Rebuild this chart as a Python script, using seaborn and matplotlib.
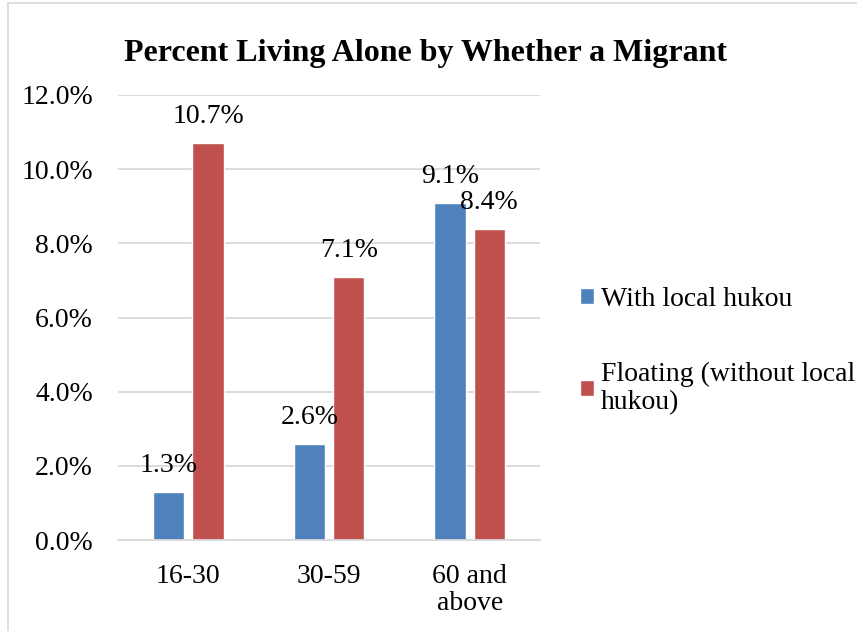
import matplotlib
matplotlib.use("Agg")
import matplotlib.pyplot as plt
import seaborn as sns
import pandas as pd
from matplotlib.patches import Rectangle
from matplotlib.ticker import FuncFormatter

categories = ["16-30", "30-59", "60 and\nabove"]
series_names = ["With local hukou", "Floating (without local\nhukou)"]
with_local = [1.3, 2.6, 9.1]
floating = [10.7, 7.1, 8.4]
colors = ["#4F81BD", "#C0504D"]

df = pd.DataFrame({
    "age": categories * 2,
    "value": with_local + floating,
    "group": [series_names[0]] * 3 + [series_names[1]] * 3,
})

sns.set_theme(style="white")
plt.rcParams["font.family"] = ["Liberation Serif", "DejaVu Serif"]
plt.rcParams["text.color"] = "#000000"

FS = 20
W, H = 857, 631
fig = plt.figure(figsize=(W / 100, H / 100), dpi=100)
ax = fig.add_axes([118 / W, 1 - 540 / H, (540 - 118) / W, (540 - 95) / H])

sns.barplot(data=df, x="age", y="value", hue="group", palette=colors,
            width=0.56, gap=0.2, ax=ax, legend=True, saturation=1)

ax.set_ylim(0, 12)
ax.set_yticks([0, 2, 4, 6, 8, 10, 12])
ax.yaxis.set_major_formatter(FuncFormatter(lambda v, p: f"{v:.1f}%"))
ax.grid(axis="y", color="#D9D9D9", linewidth=1.3)
ax.set_axisbelow(True)
for s in ["top", "right", "left"]:
    ax.spines[s].set_visible(False)
ax.spines["bottom"].set_color("#D9D9D9")
ax.spines["bottom"].set_linewidth(1.3)
ax.set_xlabel("")
ax.set_ylabel("")
ax.tick_params(axis="y", length=0, pad=18, labelsize=FS, colors="#000000")
ax.tick_params(axis="x", length=0, pad=17, labelsize=FS, colors="#000000")
for t in ax.get_xticklabels():
    t.set_linespacing(1.1)

for cont in ax.containers:
    for bar in cont:
        h = bar.get_height()
        ax.annotate(f"{h:.1f}%", (bar.get_x() + bar.get_width() / 2, h),
                    xytext=(0, 19), textcoords="offset points",
                    ha="center", va="center", fontsize=FS, color="#000000")

handles, labels = ax.get_legend_handles_labels()
leg = ax.legend(handles, labels, loc="center left", bbox_to_anchor=(1.035, 0.425),
                frameon=False, fontsize=FS, handlelength=0.5, handleheight=0.5,
                handletextpad=0.25, labelspacing=1.8)
for t in leg.get_texts():
    t.set_linespacing(1.15)
    t.set_color("#000000")

fig.text(0.5 * (124 + 727) / W, 1 - 53 / H, "Percent Living Alone by Whether a Migrant",
         ha="center", va="center", fontsize=23, fontweight="bold", color="#000000")

fig.patches.append(Rectangle((8 / W, -0.1), 1.2, 1.1 - 3 / H, transform=fig.transFigure,
                             fill=False, edgecolor="#D9D9D9", linewidth=1.2))

fig.savefig("out.png", dpi=100)
